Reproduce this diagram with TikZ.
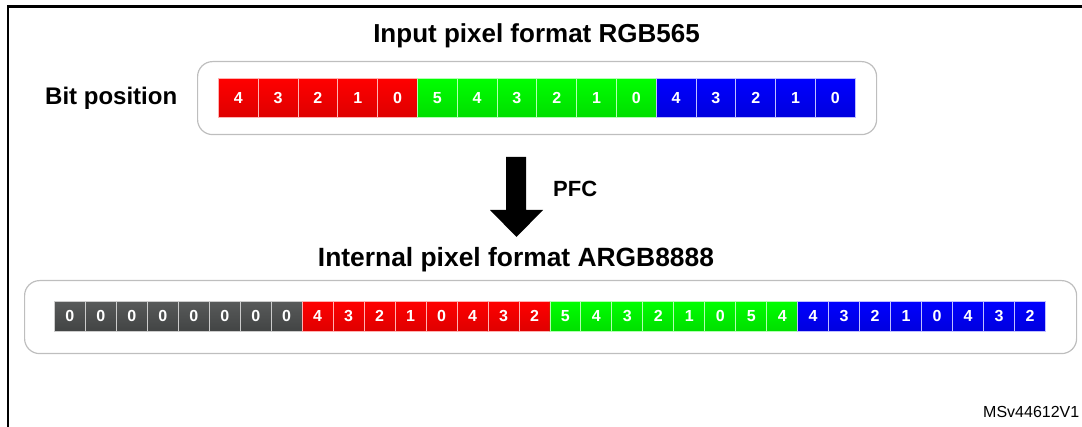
\documentclass[tikz,border=0pt]{standalone}
\usepackage{fontspec}
\setmainfont{Liberation Sans}
\definecolor{redT}{RGB}{255,0,0}
\definecolor{redB}{RGB}{222,0,0}
\definecolor{grnT}{RGB}{0,255,0}
\definecolor{grnB}{RGB}{0,222,0}
\definecolor{bluT}{RGB}{0,0,255}
\definecolor{bluB}{RGB}{0,0,222}
\definecolor{gryT}{RGB}{88,90,90}
\definecolor{gryB}{RGB}{66,68,68}
\definecolor{panelline}{RGB}{190,190,190}
\begin{document}
\begin{tikzpicture}[x=1pt,y=-1pt,
  heading/.style={font=\fontsize{26}{30}\selectfont\bfseries, anchor=base, inner sep=0pt},
  label/.style={font=\fontsize{24}{28}\selectfont\bfseries, anchor=base west, inner sep=0pt},
  panel/.style={draw=panelline, line width=1.2pt, rounded corners=15pt, anchor=north west, inner sep=0pt},
  bitcell/.style={anchor=north west, inner sep=0pt, text=white,
    font=\fontsize{16}{18}\selectfont\bfseries, line width=0.8pt},
  topcell/.style={bitcell, minimum width=39.8pt, minimum height=39pt},
  lowcell/.style={bitcell, minimum width=31pt, minimum height=30pt},
  redcell/.style={top color=redT, bottom color=redB, draw=red!30!white},
  grncell/.style={top color=grnT, bottom color=grnB, draw=green!30!white},
  blucell/.style={top color=bluT, bottom color=bluB, draw=blue!25!white},
  grycell/.style={top color=gryT, bottom color=gryB, draw=gray!40!white}]
\useasboundingbox (0,0) rectangle (1082,427);

% outer frame (top and left edges)
\draw[line width=2.2pt] (8,427) -- (8,6.5) -- (1082,6.5);

% headings and labels
\node[heading] (intitle) at (536.5,43) {Input pixel format RGB565};
\node[heading, font=\fontsize{26.4}{30}\selectfont\bfseries] (outtitle) at (516,267) {Internal pixel format ARGB8888};
\node[label] (bitpos) at (45,105) {Bit position};
\node[label, font=\fontsize{22}{26}\selectfont\bfseries] (pfc) at (553,197) {PFC};
\node[anchor=base west, inner sep=0pt, font=\fontsize{16}{19}\selectfont] (ref) at (983,418) {MSv44612V1};

% input word panel
\node[panel, minimum width=679pt, minimum height=73pt] (inbox) at (197,61) {};
\foreach \d [count=\i from 0] in {4,3,2,1,0}
  \node[topcell, redcell] (t\i) at (218+\i*39.8,78) {\d};
\foreach \d [count=\i from 5] in {5,4,3,2,1,0}
  \node[topcell, grncell] (t\i) at (218+\i*39.8,78) {\d};
\foreach \d [count=\i from 11] in {4,3,2,1,0}
  \node[topcell, blucell] (t\i) at (218+\i*39.8,78) {\d};

% conversion arrow
\fill (506,157) -- (526,157) -- (526,210) -- (543,210) -- (516.5,237)
  -- (490,210) -- (506,210) -- cycle;

% internal word panel
\node[panel, minimum width=1052pt, minimum height=73pt] (outbox) at (24,280) {};
\foreach \d [count=\i from 0] in {0,0,0,0,0,0,0,0}
  \node[lowcell, grycell] (b\i) at (54+\i*30.97,301) {\d};
\foreach \d [count=\i from 8] in {4,3,2,1,0,4,3,2}
  \node[lowcell, redcell] (b\i) at (54+\i*30.97,301) {\d};
\foreach \d [count=\i from 16] in {5,4,3,2,1,0,5,4}
  \node[lowcell, grncell] (b\i) at (54+\i*30.97,301) {\d};
\foreach \d [count=\i from 24] in {4,3,2,1,0,4,3,2}
  \node[lowcell, blucell] (b\i) at (54+\i*30.97,301) {\d};
\end{tikzpicture}
\end{document}
